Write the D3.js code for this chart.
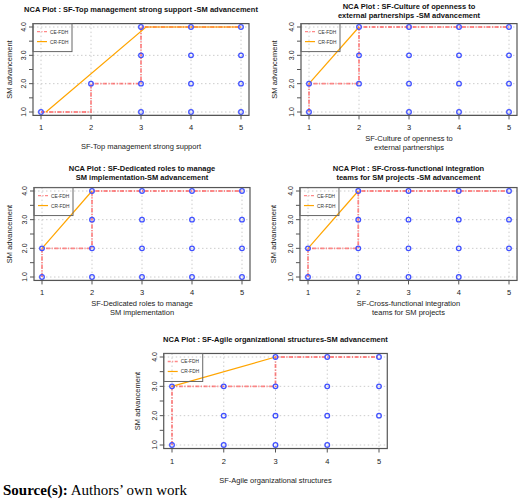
<!DOCTYPE html>
<html>
<head>
<meta charset="utf-8">
<script src="https://cdn.jsdelivr.net/npm/d3@7"></script>
<style>
body { margin: 0; background: #fff; }
svg text { font-family: "Liberation Sans", Arial, sans-serif; }
</style>
</head>
<body>
<svg id="chart" width="520" height="499"></svg>
<script>
// panel titles and axis labels
let titles = [
    ['NCA Plot : SF-Top management strong support -SM advancement'],
    ['NCA Plot : SF-Culture of openness to', 'external partnerships -SM advancement'],
    ['NCA Plot : SF-Dedicated roles to manage', 'SM implementation-SM advancement'],
    ['NCA Plot : SF-Cross-functional integration', 'teams for SM projects -SM advancement'],
    ['NCA Plot : SF-Agile organizational structures-SM advancement']
];
let x_labels = [
    ['SF-Top management strong support'],
    ['SF-Culture of openness to', 'external partnerships'],
    ['SF-Dedicated roles to manage', 'SM implementation'],
    ['SF-Cross-functional integration', 'teams for SM projects'],
    ['SF-Agile organizational structures']
];
let y_label = 'SM advancement';
let x_ticks = [1, 2, 3, 4, 5];
let y_ticks = [1, 1.5, 2, 2.5, 3, 3.5, 4];

// observed (x, y) combinations per panel
let points = [
    [[1,1],[2,2],[3,1],[3,2],[3,3],[3,4],[4,1],[4,2],[4,3],[4,4],[5,1],[5,2],[5,3],[5,4]],
    [[1,1],[1,2],[2,2],[2,3],[2,4],[3,1],[3,2],[3,3],[3,4],[4,1],[4,2],[4,3],[4,4],[5,1],[5,2],[5,3],[5,4]],
    [[1,1],[1,2],[2,1],[2,2],[2,3],[2,4],[3,1],[3,2],[3,3],[3,4],[4,1],[4,2],[4,3],[4,4],[5,1],[5,2],[5,3],[5,4]],
    [[1,1],[1,2],[2,1],[2,2],[2,3],[2,4],[3,1],[3,2],[3,3],[3,4],[4,1],[4,2],[4,3],[4,4],[5,2],[5,3],[5,4]],
    [[1,1],[1,3],[2,1],[2,2],[2,3],[3,1],[3,2],[3,3],[3,4],[4,1],[4,2],[4,3],[4,4],[5,2],[5,3],[5,4]]
];
// CE-FDH step ceilings
let ce_fdh = [
    [[1,1],[2,1],[2,2],[3,2],[3,4],[5,4]],
    [[1,1],[1,2],[2,2],[2,4],[5,4]],
    [[1,1],[1,2],[2,2],[2,4],[5,4]],
    [[1,1],[1,2],[2,2],[2,4],[5,4]],
    [[1,1],[1,3],[3,3],[3,4],[5,4]]
];
// CR-FDH regression ceilings
let cr_fdh = [
    [[1.1,1],[3.1,4],[5,4]],
    [[1,2],[2,4]],
    [[1,2],[2,4]],
    [[1,2],[2,4]],
    [[1,3],[3,4]]
];

// pixel frame of each panel: x=1..5 -> x0..x1, y=4..1 -> y0..y1
let frames = [
    { x0: 41, x1: 241, y0: 27, y1: 112, title_y: 9, ylab_x: 9 },
    { x0: 309, x1: 509, y0: 27, y1: 112, title_y: 6, ylab_x: 274 },
    { x0: 42, x1: 242, y0: 191, y1: 277, title_y: 168, ylab_x: 9 },
    { x0: 308, x1: 509, y0: 191, y1: 277, title_y: 168, ylab_x: 273 },
    { x0: 172, x1: 379, y0: 357, y1: 445, title_y: 339, ylab_x: 137 }
];

let svg = d3.select('#chart');

for (let i = 0; i < frames.length; ++i) {
    let f = frames[i];
    let x = d3.scaleLinear().domain([1, 5]).range([f.x0, f.x1]);
    let y = d3.scaleLinear().domain([1, 4]).range([f.y1, f.y0]);
    let bx0 = x(0.84), bx1 = x(5.16), by0 = y(4.12), by1 = y(0.88);
    let g = svg.append('g');

    // grid
    g.selectAll('.gx').data(x_ticks).enter().append('line')
        .attr('x1', d => x(d)).attr('x2', d => x(d))
        .attr('y1', by0).attr('y2', by1)
        .attr('stroke', '#ccc').attr('stroke-dasharray', '1.5,2.5');
    g.selectAll('.gy').data([1, 2, 3, 4]).enter().append('line')
        .attr('y1', d => y(d)).attr('y2', d => y(d))
        .attr('x1', bx0).attr('x2', bx1)
        .attr('stroke', '#ccc').attr('stroke-dasharray', '1.5,2.5');

    // ceilings
    let line = d3.line().x(d => x(d[0])).y(d => y(d[1]));
    g.append('path').attr('d', line(ce_fdh[i]))
        .attr('fill', 'none').attr('stroke', '#ff3b3b').attr('stroke-opacity', 0.6)
        .attr('stroke-width', 1.8).attr('stroke-dasharray', '4,1.5,1.2,1.5');
    g.append('path').attr('d', line(cr_fdh[i]))
        .attr('fill', 'none').attr('stroke', '#ffa500').attr('stroke-width', 1.2);

    // points
    g.selectAll('circle').data(points[i]).enter().append('circle')
        .attr('cx', d => x(d[0])).attr('cy', d => y(d[1])).attr('r', 2.3)
        .attr('fill', 'none').attr('stroke', '#4050ff').attr('stroke-width', 1.3);

    // box
    g.append('rect').attr('x', bx0).attr('y', by0)
        .attr('width', bx1 - bx0).attr('height', by1 - by0)
        .attr('fill', 'none').attr('stroke', '#555').attr('stroke-width', 1.2);

    // legend
    let lg = g.append('g').attr('transform', `translate(${bx0},${by0})`);
    lg.append('rect').attr('width', 39).attr('height', 28)
        .attr('fill', 'none').attr('stroke', '#666').attr('stroke-width', 1);
    lg.append('line').attr('x1', 4).attr('x2', 14).attr('y1', 8).attr('y2', 8)
        .attr('stroke', '#ff3b3b').attr('stroke-opacity', 0.6).attr('stroke-width', 1.3)
        .attr('stroke-dasharray', '3,1.5,1,1.5');
    lg.append('line').attr('x1', 4).attr('x2', 14).attr('y1', 18).attr('y2', 18)
        .attr('stroke', '#ffa500').attr('stroke-width', 1.2);
    lg.append('text').attr('x', 17).attr('y', 10).attr('font-size', 4.8).attr('fill', '#333').text('CE-FDH');
    lg.append('text').attr('x', 17).attr('y', 20).attr('font-size', 4.8).attr('fill', '#333').text('CR-FDH');

    // x axis
    g.selectAll('.xt').data(x_ticks).enter().append('line')
        .attr('x1', d => x(d)).attr('x2', d => x(d))
        .attr('y1', by1).attr('y2', by1 + 4).attr('stroke', '#555');
    g.append('line').attr('x1', x(1)).attr('x2', x(5)).attr('y1', by1).attr('y2', by1).attr('stroke', '#555');
    g.selectAll('.xl').data(x_ticks).enter().append('text')
        .attr('x', d => x(d)).attr('y', by1 + 15).attr('text-anchor', 'middle')
        .attr('font-size', 7.5).attr('fill', '#222').text(d => d);

    // y axis
    g.selectAll('.yt').data(y_ticks).enter().append('line')
        .attr('x1', bx0 - 4).attr('x2', bx0)
        .attr('y1', d => y(d)).attr('y2', d => y(d)).attr('stroke', '#555');
    g.selectAll('.yl').data([1, 2, 3, 4]).enter().append('text')
        .attr('transform', d => `translate(${bx0 - 7},${y(d)}) rotate(-90)`)
        .attr('text-anchor', 'middle').attr('font-size', 7)
        .attr('fill', '#222').text(d => d.toFixed(1));
    g.append('text')
        .attr('transform', `translate(${f.ylab_x + 3},${(f.y0 + f.y1) / 2}) rotate(-90)`)
        .attr('text-anchor', 'middle').attr('font-size', 7.5).attr('fill', '#222').text(y_label);

    // titles
    let cx = (bx0 + bx1) / 2;
    titles[i].forEach((t, k) => {
        g.append('text').attr('x', cx).attr('y', f.title_y + 3 + k * 9)
            .attr('text-anchor', 'middle').attr('font-size', 7.5).attr('font-weight', 'bold')
            .attr('fill', '#111').text(t);
    });
    let xl_y = x_labels[i].length > 1 ? by1 + 26 : by1 + 34;
    x_labels[i].forEach((t, k) => {
        g.append('text').attr('x', cx).attr('y', xl_y + k * 9)
            .attr('text-anchor', 'middle').attr('font-size', 7.5).attr('fill', '#222').text(t);
    });
}

let src = svg.append('text').attr('x', 3).attr('y', 495)
    .attr('font-size', 15).style('font-family', '"Liberation Serif", "Times New Roman", serif');
src.append('tspan').attr('font-weight', 'bold').text('Source(s):');
src.append('tspan').text(' Authors\u2019 own work');
</script>
</body>
</html>
